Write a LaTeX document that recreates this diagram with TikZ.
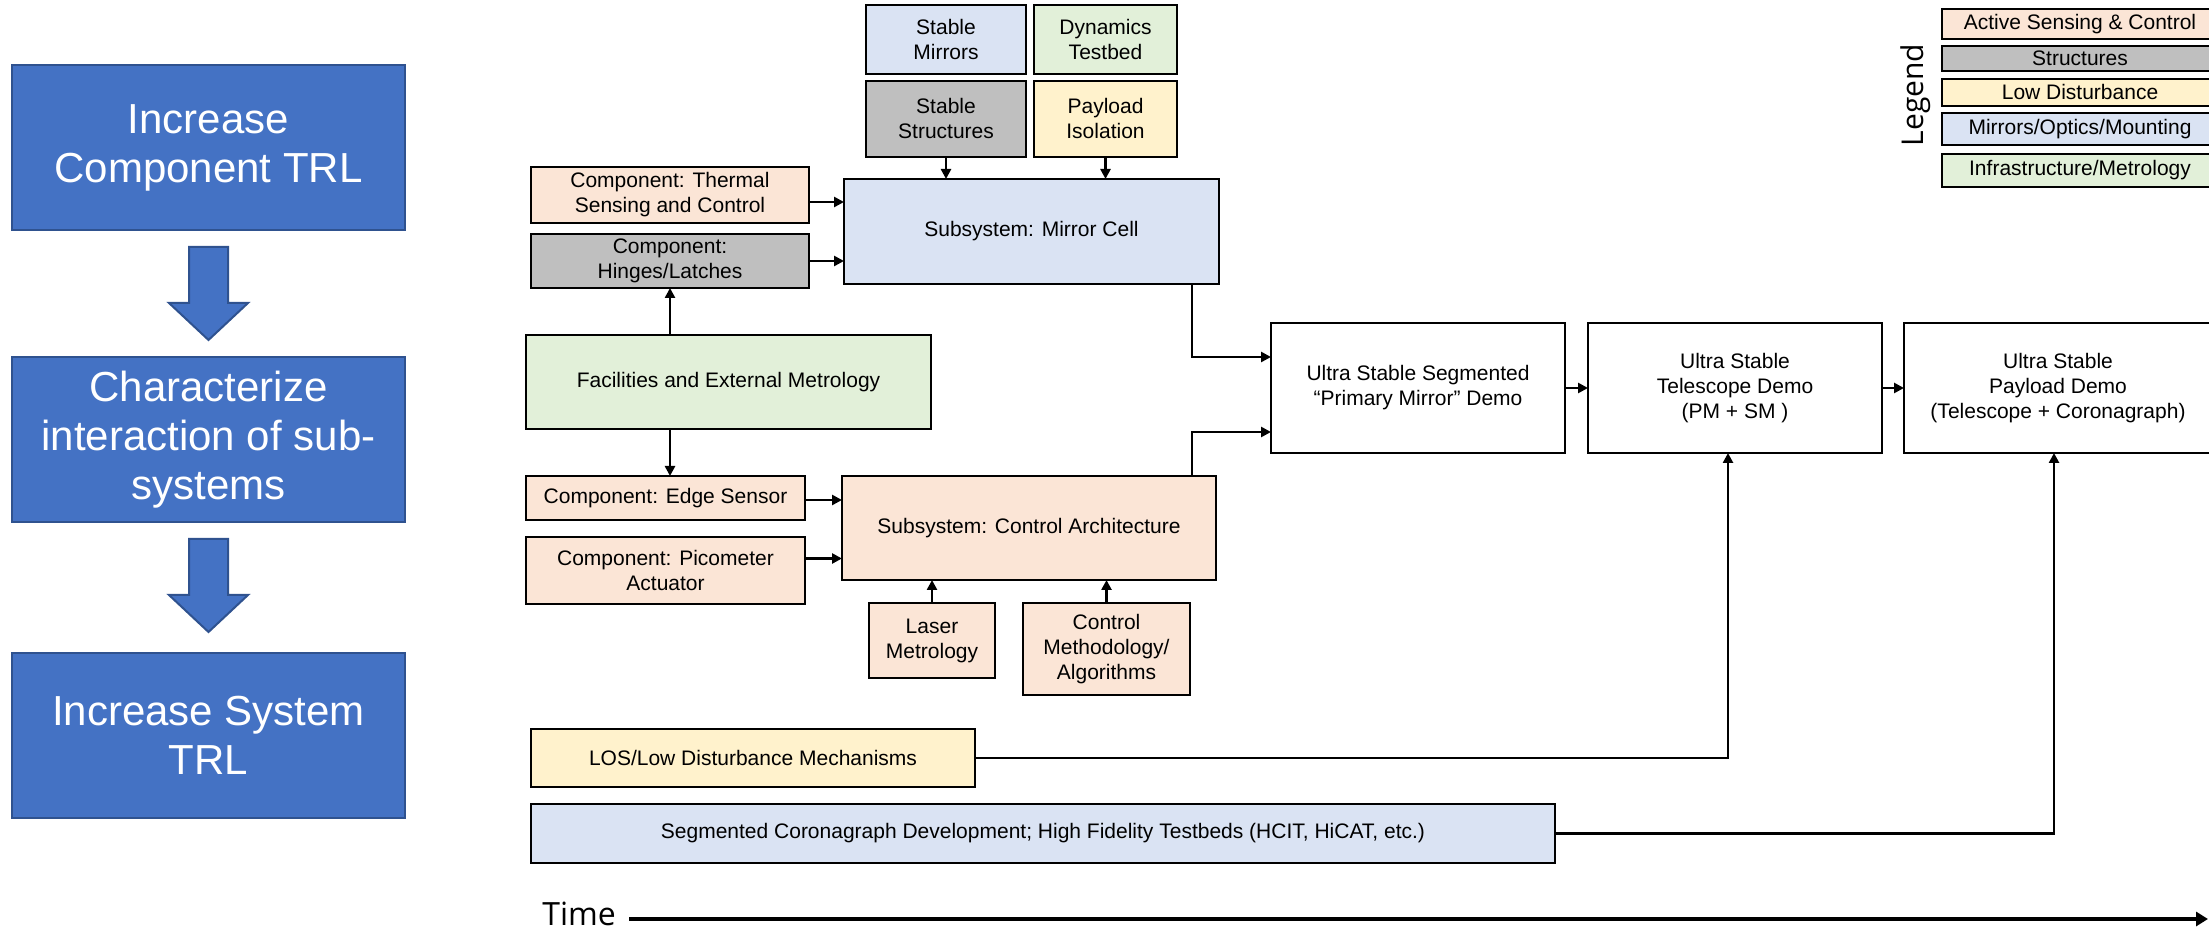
\documentclass[tikz,border=0pt]{standalone}
\usepackage{fontspec}
\setmainfont{Liberation Sans}
\newfontfamily\segoe{Open Sans}
\usetikzlibrary{arrows.meta,calc}
\definecolor{cpeach}{HTML}{FBE5D6}
\definecolor{cgray}{HTML}{BFBFBF}
\definecolor{cyellow}{HTML}{FFF2CC}
\definecolor{cblue}{HTML}{DAE3F3}
\definecolor{cgreen}{HTML}{E2F0D9}
\definecolor{tblue}{HTML}{4472C4}
\definecolor{tblueD}{HTML}{2F528F}
\newcommand\bx[7]{\node[#2, minimum width={(#5-#3)*0.5pt}, minimum height={(#6-#4)*0.5pt}] (#1) at ({(#3+#5)/2},{(#4+#6)/2}) {#7};}
\begin{document}
\begin{tikzpicture}[x=0.5pt,y=-0.5pt,
  box/.style={draw=black, line width=1.2pt, inner sep=0pt, outer sep=0pt, align=center, font=\fontsize{10.5}{12.5}\selectfont},
  peach/.style={box, fill=cpeach},
  gray/.style={box, fill=cgray},
  yellow/.style={box, fill=cyellow},
  lblue/.style={box, fill=cblue},
  green/.style={box, fill=cgreen},
  white/.style={box, fill=white},
  lbox/.style={draw=tblueD, fill=tblue, line width=1pt, inner sep=0pt, outer sep=0pt, align=center, text=white, font=\fontsize{21}{24.5}\selectfont},
  barrow/.style={draw=tblueD, fill=tblue, line width=1pt},
  conn/.style={line width=1.3pt, -{Triangle[length=5pt,width=5pt]}},
]
\useasboundingbox (0,0) rectangle (2209,929);

% left column
\bx{lb1}{lbox}{12}{65}{405}{230}{Increase\\Component TRL}
\bx{lb2}{lbox}{12}{357}{405}{522}{Characterize\\interaction of sub-\\systems}
\bx{lb3}{lbox}{12}{653}{405}{818}{Increase System\\TRL}
\foreach \dy in {0,292}{
  \draw[barrow, yshift={-\dy*0.5pt}] (189,247) -- (228,247) -- (228,303) -- (248,303) -- (208.5,340) -- (169,303) -- (189,303) -- cycle;
}

% top boxes
\bx{sm}{lblue}{866}{5}{1026}{74}{Stable\\Mirrors}
\bx{dt}{green}{1034}{5}{1177}{74}{Dynamics\\Testbed}
\bx{ss}{gray}{866}{81}{1026}{157}{Stable\\Structures}
\bx{pi}{yellow}{1034}{81}{1177}{157}{Payload\\Isolation}
\bx{th}{peach}{531}{167}{809}{223}{Component: Thermal\\Sensing and Control}
\bx{hl}{gray}{531}{234}{809}{288}{Component:\\Hinges/Latches}
\bx{mc}{lblue}{844}{179}{1219}{284}{Subsystem: Mirror Cell}
\bx{fac}{green}{526}{335}{931}{429}{Facilities and External Metrology}
\bx{es}{peach}{526}{476}{805}{520}{Component: Edge Sensor}
\bx{pa}{peach}{526}{537}{805}{604}{Component: Picometer\\Actuator}
\bx{ca}{peach}{842}{476}{1216}{580}{Subsystem: Control Architecture}
\bx{lm}{peach}{869}{603}{995}{678}{Laser\\Metrology}
\bx{cm}{peach}{1023}{603}{1190}{695}{Control\\Methodology/\\Algorithms}

% demos
\bx{pm}{white}{1271}{323}{1565}{453}{Ultra Stable Segmented\\“Primary Mirror” Demo}
\bx{ts}{white}{1588}{323}{1882}{453}{Ultra Stable\\Telescope Demo\\(PM + SM )}
\bx{pd}{white}{1904}{323}{2212}{453}{Ultra Stable\\Payload Demo\\(Telescope + Coronagraph)}

% long boxes
\bx{los}{yellow}{531}{729}{975}{787}{LOS/Low Disturbance Mechanisms}
\bx{seg}{lblue}{531}{804}{1555}{863}{Segmented Coronagraph Development; High Fidelity Testbeds (HCIT, HiCAT, etc.)}

% legend
\node[rotate=90, font=\segoe\fontsize{15}{15}\selectfont, inner sep=0pt] (legt) at (1916,95) {Legend};
\bx{l1}{peach}{1942}{9}{2218}{39}{Active Sensing \& Control}
\bx{l2}{gray}{1942}{46}{2218}{71}{Structures}
\bx{l3}{yellow}{1942}{79}{2218}{106}{Low Disturbance}
\bx{l4}{lblue}{1942}{113}{2218}{145}{Mirrors/Optics/Mounting}
\bx{l5}{green}{1942}{154}{2218}{187}{Infrastructure/Metrology}

% connectors
\draw[conn] (ss.south) -- (ss.south |- mc.north);
\draw[conn] (pi.south) -- (pi.south |- mc.north);
\draw[conn] ([yshift=-3.5pt]th.east) -- ([yshift=-3.5pt]th.east -| mc.west);
\draw[conn] (hl.east) -- (hl.east -| mc.west);
\draw[conn] (fac.north -| hl.south) -- (hl.south);
\draw[conn] (fac.south -| hl.south) -- (es.north -| hl.south);
\draw[conn] ([yshift=-1pt]es.east) -- ([yshift=-1pt]es.east -| ca.west);
\draw[conn] ([yshift=6pt]pa.east) -- ([yshift=6pt]pa.east -| ca.west);
\draw[conn] (lm.north) -- (lm.north |- ca.south);
\draw[conn] (cm.north) -- (cm.north |- ca.south);
\draw[conn] ([xshift=-13.5pt]mc.south east) |- ([yshift=15.5pt]pm.west);
\draw[conn] ([xshift=-12pt]ca.north east) |- ([yshift=-22pt]pm.west);
\draw[conn] (pm.east) -- (ts.west);
\draw[conn] (ts.east) -- (pd.west);
\draw[conn] (los.east) -| ([xshift=-3.5pt]ts.south);
\draw[conn] (seg.east) -| ([xshift=-2pt]pd.south);

% time axis
\node[anchor=base west, inner sep=0pt, font=\segoe\fontsize{16}{16}\selectfont] (time) at (542,925) {Time};
\coordinate (tstart) at (629,919);
\coordinate (tend) at (2208,919);
\draw[line width=2.4pt, -{Triangle[length=6pt,width=7pt]}] (tstart) -- (tend);
\end{tikzpicture}
\end{document}
